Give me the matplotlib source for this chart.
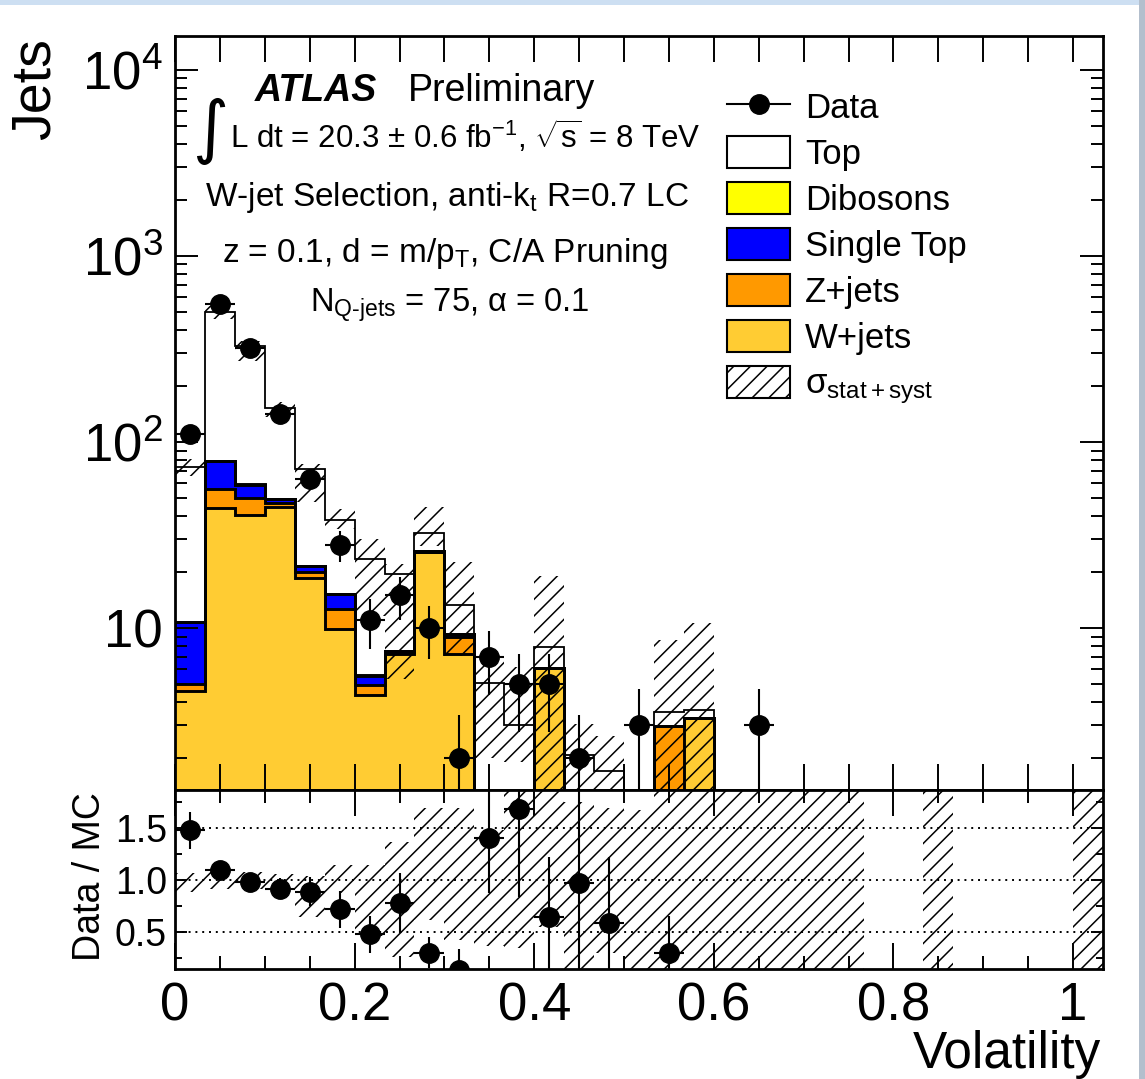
import numpy as np
import matplotlib
matplotlib.use("Agg")
import matplotlib.pyplot as plt
from matplotlib.patches import Patch, Rectangle
from matplotlib.lines import Line2D
from matplotlib.ticker import FixedLocator, FixedFormatter, MultipleLocator, LogLocator, NullFormatter

plt.rcParams['font.family'] = ['Liberation Sans', 'DejaVu Sans']
plt.rcParams['mathtext.fontset'] = 'custom'
plt.rcParams['mathtext.rm'] = 'Liberation Sans'
plt.rcParams['mathtext.it'] = 'Liberation Sans:italic'
plt.rcParams['mathtext.bf'] = 'Liberation Sans:bold'
plt.rcParams['hatch.linewidth'] = 1.1

# ---- data (31 bins of width 1/30 in volatility) ----
bin_width = 1 / 30
n_bins = 31

data_counts = [110, 552, 320, 142, 63, 28, 11, 15, 10, 2, 7, 5, 5, 2, 0, 3,
               0, 0, 0, 3, 0, 0, 0, 0, 0, 0, 0, 0, 0, 0, 0]

wjets = [4.6, 44, 40.5, 44.8, 18.6, 9.9, 4.4, 7.25, 25.5, 7.25, 0, 0, 6.1, 0, 0, 0,
         0, 3.28, 0, 0, 0, 0, 0, 0, 0, 0, 0, 0, 0, 0, 0]
zjets = [0.4, 12, 9.5, 2.2, 1.4, 2.7, 0.55, 0.2, 0.3, 1.7, 0, 0, 0, 0, 0, 0,
         2.97, 0, 0, 0, 0, 0, 0, 0, 0, 0, 0, 0, 0, 0, 0]
singletop = [5.8, 23, 9, 2.4, 1.5, 2.6, 0.6, 0.1, 0.2, 0.35, 0, 0, 0, 0, 0, 0,
             0, 0, 0, 0, 0, 0, 0, 0, 0, 0, 0, 0, 0, 0, 0]
dibosons = [0.05, 0.3, 0.2, 0.1, 0.05, 0.05, 0.02, 0, 0.05, 0.02, 0, 0, 0, 0, 0, 0,
            0, 0, 0, 0, 0, 0, 0, 0, 0, 0, 0, 0, 0, 0, 0]
top = [63, 421, 269, 103, 50, 23, 18, 12, 6.4, 4, 5.1, 3.0, 1.8, 2.07, 1.7, 0,
       0.56, 0.34, 0, 0, 0, 0, 0, 0, 0, 0, 0, 0, 0, 0, 0]

nan = np.nan
# total MC uncertainty band (lower / upper edge)
band_lo = [65.6, 458, 272, 136, 47.5, 34, 11.6, 5.3, 27.6, 7.1, 2.0, 1.9, 0.5, 0.5, 0.5, nan,
           0.5, 0.5, nan, nan, nan, nan, nan, nan, nan, nan, nan, nan, nan, nan, nan]
band_hi = [81, 538, 349, 164, 76, 43.7, 30, 22, 45, 22.6, 6.8, 6.2, 19, 3.05, 2.63, nan,
           8.6, 10.6, nan, nan, nan, nan, nan, nan, nan, nan, nan, nan, nan, nan, nan]

ratio_vals = [1.48, 1.10, 0.98, 0.92, 0.89, 0.72, 0.48, 0.78, 0.30, 0.14, 1.41, 1.69, 0.65, 0.97, 0.59, nan,
              0.30, nan, nan, nan, nan, nan, nan, nan, nan, nan, nan, nan, nan, nan, nan]
ratio_errs = [0.18, 0.05, 0.05, 0.10, 0.14, 0.18, 0.18, 0.29, 0.15, 0.20, 0.53, 0.85, 0.57, 1.0, 0.63, nan,
              0.36, nan, nan, nan, nan, nan, nan, nan, nan, nan, nan, nan, nan, nan, nan]
ratio_band_lo = [0.89, 0.92, 0.92, 0.91, 0.65, 0.88, 0.46, 0.26, 0.62, 0.42, 0.37, 0.35, 0.55, 0.1, 0.3, 0.1,
                 0.1, 0.1, 0.1, 0.1, 0.1, 0.1, 0.1, nan, nan, 0.1, nan, nan, nan, nan, 0.1]
ratio_band_hi = [1.07, 1.10, 1.08, 1.06, 1.04, 1.15, 1.15, 1.37, 1.70, 1.70, 1.48, 2.0, 2.0, 1.75, 1.70, 1.68,
                 2.0, 2.0, 2.0, 2.0, 2.0, 2.0, 2.0, nan, nan, 2.0, nan, nan, nan, nan, 2.0]

layer_names = ['W+jets', 'Z+jets', 'Single Top', 'Dibosons', 'Top']
layer_colors = ['#ffcc33', '#ff9900', '#0000ff', '#ffff00', '#ffffff']

ytick_vals = [10, 100, 1000, 10000]
ytick_labels = ['10', '$10^{2}$', '$10^{3}$', '$10^{4}$']
xtick_vals = [0, 0.2, 0.4, 0.6, 0.8, 1.0]
xtick_labels = ['0', '0.2', '0.4', '0.6', '0.8', '1']
rtick_vals = [0.5, 1.0, 1.5]
rtick_labels = ['0.5', '1.0', '1.5']

# ---- figure ----
W, H, DPI = 1145, 1079, 100
fig = plt.figure(figsize=(W / DPI, H / DPI), dpi=DPI)

def fx(px):
    return px / W

def fy(py):
    return 1 - py / H

ax = fig.add_axes([fx(175), fy(790), (1103 - 175) / W, (790 - 36) / H])
rax = fig.add_axes([fx(175), fy(969), (1103 - 175) / W, (969 - 790) / H], sharex=ax)

edges = np.arange(n_bins + 1) * bin_width
centers = edges[:-1] + bin_width / 2

# stacked MC
cum = np.cumsum(np.array([wjets, zjets, singletop, dibosons, top], dtype=float), axis=0)
ax.set_yscale('log', nonpositive='clip')
for k in reversed(range(len(layer_names))):
    ax.stairs(cum[k], edges, baseline=0, fill=True, facecolor=layer_colors[k],
              edgecolor='none', linewidth=0)
for k in range(len(layer_names)):
    lw = 1.3 if k == len(layer_names) - 1 else 2.1
    ax.stairs(cum[k], edges, baseline=None, color='black', linewidth=lw)

# uncertainty band
blo = np.array(band_lo, float)
bhi = np.array(band_hi, float)
m = ~np.isnan(blo)
ax.bar(edges[:-1][m], bhi[m] - blo[m], bottom=blo[m], width=bin_width, align='edge',
       fill=False, hatch='//', edgecolor='black', linewidth=0)

# data
counts = np.array(data_counts, float)
md = counts > 0
ax.errorbar(centers[md], counts[md], yerr=np.sqrt(counts[md]), xerr=bin_width / 2,
            fmt='o', color='black', ms=14, elinewidth=1.5, capsize=0)

ax.set_xlim(0, n_bins * bin_width)
ax.set_ylim(1.35, 15200)
ax.yaxis.set_major_locator(FixedLocator(ytick_vals))
ax.yaxis.set_major_formatter(FixedFormatter(ytick_labels))
ax.yaxis.set_minor_locator(LogLocator(base=10, subs=np.arange(2, 10)))
ax.yaxis.set_minor_formatter(NullFormatter())
ax.xaxis.set_major_locator(MultipleLocator(0.2))
ax.xaxis.set_minor_locator(MultipleLocator(0.05))
ax.tick_params(axis='x', which='both', direction='in', top=True, bottom=True,
               length=18.7, width=1.4, labelbottom=False)
ax.tick_params(axis='y', which='major', direction='in', left=True, right=True,
               length=16.5, width=1.4, labelsize=38, pad=8.6)
ax.tick_params(axis='y', which='minor', direction='in', left=True, right=True,
               length=8.6, width=1.4)

# ratio panel
rlo = np.array(ratio_band_lo, float)
rhi = np.array(ratio_band_hi, float)
mr = ~np.isnan(rlo)
rax.bar(edges[:-1][mr], rhi[mr] - rlo[mr], bottom=rlo[mr], width=bin_width, align='edge',
        fill=False, hatch='//', edgecolor='black', linewidth=0)
for v in rtick_vals:
    rax.axhline(v, color='black', linestyle=(0, (1, 2.5)), linewidth=1.4)
rv = np.array(ratio_vals, float)
re = np.array(ratio_errs, float)
mv = ~np.isnan(rv)
rax.errorbar(centers[mv], rv[mv], yerr=re[mv], xerr=bin_width / 2,
             fmt='o', color='black', ms=14, elinewidth=1.5, capsize=0)
rax.set_ylim(0.145, 1.87)
rax.yaxis.set_major_locator(FixedLocator(rtick_vals))
rax.yaxis.set_major_formatter(FixedFormatter(rtick_labels))
rax.yaxis.set_minor_locator(MultipleLocator(0.25))
rax.xaxis.set_major_locator(FixedLocator(xtick_vals))
rax.xaxis.set_major_formatter(FixedFormatter(xtick_labels))
rax.xaxis.set_minor_locator(MultipleLocator(0.05))
rax.tick_params(axis='x', which='major', direction='in', top=True, bottom=True,
                length=18.7, width=1.4, labelsize=38, pad=9)
rax.tick_params(axis='x', which='minor', direction='in', top=True, bottom=True,
                length=9.4, width=1.4)
rax.tick_params(axis='y', which='major', direction='in', left=True, right=True,
                length=8.6, width=1.4, labelsize=27, pad=5.8)
rax.tick_params(axis='y', which='minor', direction='in', left=True, right=True,
                length=5, width=1.4)

for a in (ax, rax):
    for s in a.spines.values():
        s.set_linewidth(2.0)
    a.set_axisbelow(False)

# legend
handles = [Line2D([], [], color='black', marker='o', ms=14, lw=1.5)]
for k in [4, 3, 2, 1, 0]:
    handles.append(Patch(facecolor=layer_colors[k], edgecolor='black', linewidth=1.5))
handles.append(Patch(facecolor='white', edgecolor='black', hatch='//', linewidth=1.5))
labels = ['Data', 'Top', 'Dibosons', 'Single Top', 'Z+jets', 'W+jets', 'σ$_{\\rm stat+syst}$']
leg_fs = 25
ax.legend(handles, labels, loc='upper left',
          bbox_to_anchor=((727 - 175) / 928, (790 - 90) / 754),
          frameon=False, fontsize=leg_fs, handlelength=1.82, handleheight=1.04,
          labelspacing=0.32, handletextpad=0.42, borderpad=0, borderaxespad=0)

# annotations
fig.text(fx(255), fy(101), 'ATLAS', weight='bold', style='italic', size=27, va='baseline')
fig.text(fx(408), fy(101), 'Preliminary', size=27, va='baseline')
fig.text(fx(192), fy(131), '∫', family='DejaVu Sans', size=50, va='center', ha='left')
fig.text(fx(230), fy(148), 'L dt = 20.3 ± 0.6 fb$^{-1}$, $\\sqrt{\\rm s}$ = 8 TeV',
         size=22.5, va='baseline')
fig.text(fx(447), fy(206), 'W-jet Selection, anti-k$_{\\rm t}$ R=0.7 LC', size=24,
         va='baseline', ha='center')
fig.text(fx(445), fy(262), 'z = 0.1, d = m/p$_{\\rm T}$, C/A Pruning', size=24,
         va='baseline', ha='center')
fig.text(fx(450), fy(312), 'N$_{\\text{Q-jets}}$ = 75, α = 0.1', size=23.5,
         va='baseline', ha='center')

fig.text(fx(50), fy(38), 'Jets', size=40, rotation=90, rotation_mode='anchor',
         ha='right', va='baseline')
fig.text(fx(100), fy(877), 'Data / MC', size=27, rotation=90, rotation_mode='anchor',
         ha='center', va='baseline')
fig.text(fx(1101), fy(1068), 'Volatility', size=37, ha='right', va='baseline')

# screenshot border
fig.patches.append(Rectangle((0, fy(5)), 1, 5 / H, transform=fig.transFigure,
                             facecolor='#cddff2', edgecolor='none'))
fig.patches.append(Rectangle((fx(1139), 0), 6 / W, 1, transform=fig.transFigure,
                             facecolor='#b3bfcd', edgecolor='none'))

fig.savefig('out.png', dpi=DPI)
